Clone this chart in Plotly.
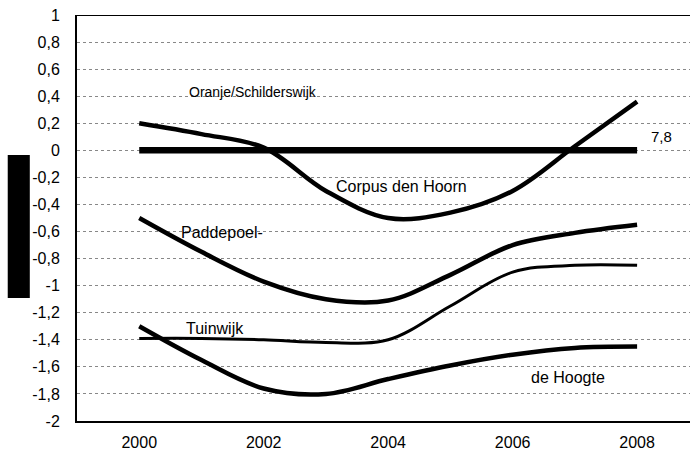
import plotly.graph_objects as go

years = [2000, 2001, 2002, 2003, 2004, 2005, 2006, 2007, 2008]
oranje = [0, 0, 0, 0, 0, 0, 0, 0, 0]
corpus = [0.20, 0.12, 0.02, -0.30, -0.50, -0.46, -0.30, 0.03, 0.36]
paddepoel = [-0.50, -0.75, -0.97, -1.10, -1.11, -0.92, -0.70, -0.61, -0.55]
tuinwijk = [-1.39, -1.39, -1.40, -1.42, -1.40, -1.15, -0.90, -0.85, -0.85]
hoogte = [-1.30, -1.55, -1.76, -1.80, -1.69, -1.59, -1.51, -1.46, -1.45]

ytick_vals = [1, 0.8, 0.6, 0.4, 0.2, 0, -0.2, -0.4, -0.6, -0.8, -1, -1.2, -1.4, -1.6, -1.8, -2]
ytick_text = ["1", "0,8", "0,6", "0,4", "0,2", "0", "-0,2", "-0,4", "-0,6", "-0,8", "-1", "-1,2", "-1,4", "-1,6", "-1,8", "-2"]
xtick_vals = [2000, 2002, 2004, 2006, 2008]

font = "Liberation Sans, Arial, sans-serif"
fig = go.Figure()

def add(y, width):
    fig.add_trace(go.Scatter(x=years, y=y, mode="lines",
                             line=dict(color="#000", width=width, shape="spline", smoothing=1.0),
                             showlegend=False, hoverinfo="skip"))

add(corpus, 4.5)
add(paddepoel, 4.5)
add(tuinwijk, 3)
add(hoogte, 4.5)
add(oranje, 6.5)

labels = [
    ("Oranje/Schilderswijk", 2000.77, 0.43, 14),
    ("Corpus den Hoorn", 2003.13, -0.27, 16),
    ("Paddepoel-", 2000.64, -0.61, 16),
    ("Tuinwijk", 2000.72, -1.32, 16),
    ("de Hoogte", 2006.26, -1.68, 16),
    ("7,8", 2008.19, 0.1, 15),
]
for t, x, y, s in labels:
    fig.add_annotation(x=x, y=y, text=t, showarrow=False, xanchor="left",
                       font=dict(family=font, size=s, color="#000"))

fig.add_shape(type="rect", xref="paper", yref="paper", x0=-0.113, x1=-0.077,
              y0=(421 - 298) / 406, y1=(421 - 155) / 406,
              fillcolor="#000", line=dict(width=0))
fig.add_shape(type="line", xref="paper", yref="y", x0=0, x1=1, y0=1, y1=1,
              line=dict(color="#000", width=2))

fig.update_layout(
    width=690, height=457,
    margin=dict(l=77, r=0, t=15, b=36),
    paper_bgcolor="white", plot_bgcolor="white",
    font=dict(family=font, size=16, color="#000"),
    xaxis=dict(range=[1999, 2008.85], tickvals=xtick_vals, showgrid=False,
               showline=True, linecolor="#000", linewidth=2,
               ticks="outside", ticklen=6, tickcolor="rgba(0,0,0,0)", zeroline=False),
    yaxis=dict(range=[-2, 1], tickvals=ytick_vals, ticktext=ytick_text,
               showgrid=True, gridcolor="#888", griddash="dot", gridwidth=1,
               showline=True, linecolor="#000", linewidth=2,
               ticks="outside", ticklen=12, tickcolor="rgba(0,0,0,0)", zeroline=False),
)

fig.write_html("out.html", config={"displayModeBar": False},
               post_script="document.body.style.margin='0px';")
